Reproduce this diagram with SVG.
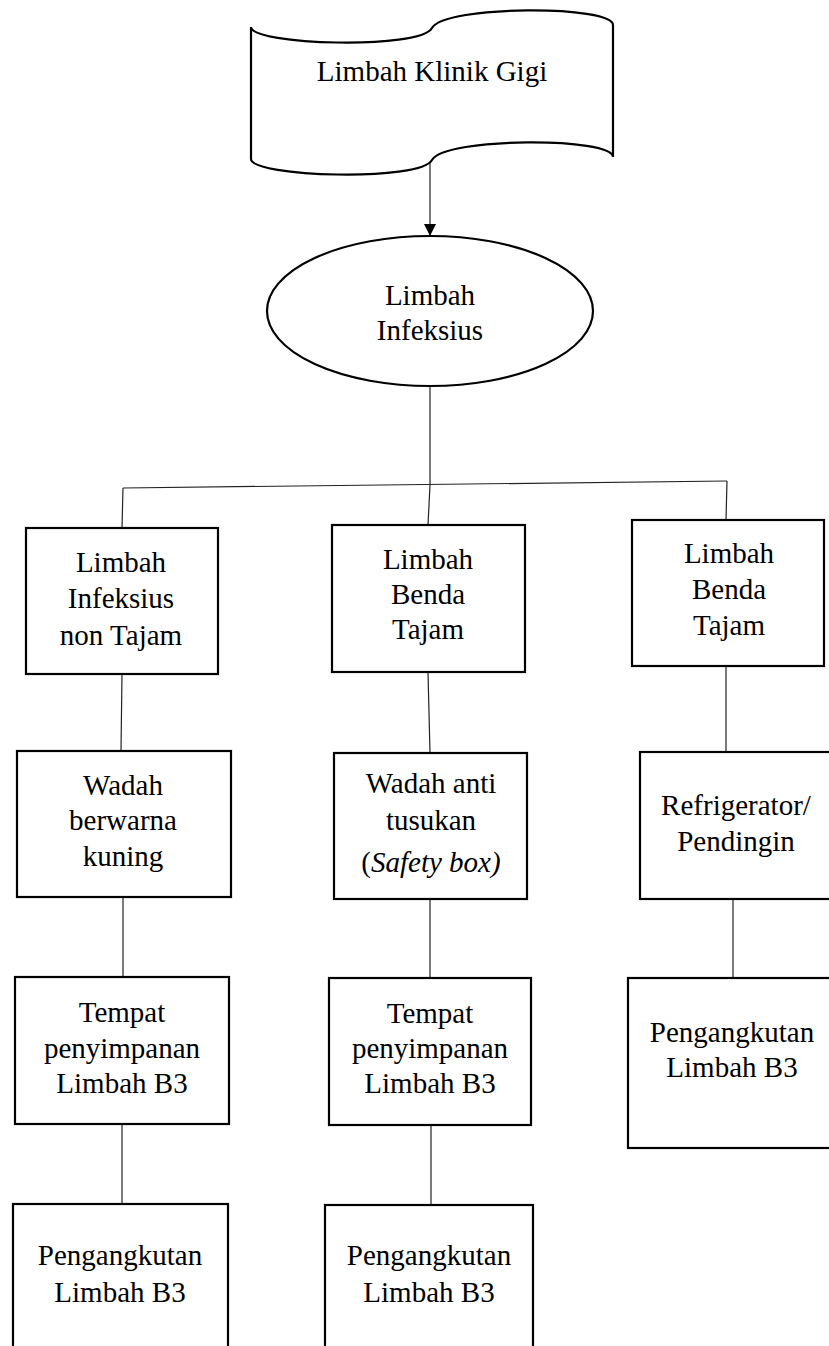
<svg xmlns="http://www.w3.org/2000/svg" width="829" height="1346" viewBox="0 0 829 1346">
<style>
.shape{fill:#fff;stroke:#000;stroke-width:2.2}
.con{fill:none;stroke:#222;stroke-width:1.2}
text{font-family:"Liberation Serif","Times New Roman",serif;font-size:29px;fill:#000;text-anchor:middle}
.it{font-style:italic}
</style>
<defs>
<marker id="arr" markerWidth="14" markerHeight="12" refX="12" refY="6" orient="auto" markerUnits="userSpaceOnUse">
<path d="M0,0 L12,6 L0,12 Z" fill="#000"/>
</marker>
</defs>
<rect width="829" height="1346" fill="#fff"/>
<g id="connectors">
<line class="con" x1="430" y1="155" x2="430" y2="236" marker-end="url(#arr)"/>
<line class="con" x1="430" y1="386" x2="430" y2="485"/>
<line class="con" x1="123" y1="488" x2="727" y2="481"/>
<line class="con" x1="123" y1="488" x2="122" y2="528"/>
<line class="con" x1="430" y1="485" x2="428" y2="525"/>
<line class="con" x1="727" y1="481" x2="726" y2="520"/>
<line class="con" x1="122" y1="674" x2="121" y2="751"/>
<line class="con" x1="428" y1="672" x2="430" y2="753"/>
<line class="con" x1="726" y1="666" x2="726" y2="752"/>
<line class="con" x1="123" y1="897" x2="123" y2="977"/>
<line class="con" x1="430" y1="899" x2="430" y2="978"/>
<line class="con" x1="733" y1="899" x2="733" y2="978"/>
<line class="con" x1="122" y1="1124" x2="122" y2="1204"/>
<line class="con" x1="431" y1="1125" x2="431" y2="1205"/>
</g>
<g id="doc">
<path class="shape" d="M251,27 C251,45 420,50 432,28 C445,5 613,5 613,25 L613,157 C613,137 445,137 432,160 C420,182 251,177 251,159 Z"/>
<text x="432" y="81">Limbah Klinik Gigi</text>
</g>
<g id="ellipse">
<ellipse class="shape" cx="430" cy="311" rx="163" ry="75"/>
<text x="430" y="305">Limbah</text>
<text x="430" y="340">Infeksius</text>
</g>
<g id="c1r1">
<rect class="shape" x="26" y="528" width="192" height="146"/>
<text x="121" y="572">Limbah</text>
<text x="121" y="608">Infeksius</text>
<text x="121" y="645">non Tajam</text>
</g>
<g id="c2r1">
<rect class="shape" x="332" y="525" width="193" height="147"/>
<text x="428" y="569">Limbah</text>
<text x="428" y="604">Benda</text>
<text x="428" y="639">Tajam</text>
</g>
<g id="c3r1">
<rect class="shape" x="632" y="520" width="192" height="146"/>
<text x="729" y="563">Limbah</text>
<text x="729" y="599">Benda</text>
<text x="729" y="635">Tajam</text>
</g>
<g id="c1r2">
<rect class="shape" x="17" y="751" width="214" height="146"/>
<text x="123" y="795">Wadah</text>
<text x="123" y="830">berwarna</text>
<text x="123" y="866">kuning</text>
</g>
<g id="c2r2">
<rect class="shape" x="334" y="753" width="193" height="146"/>
<text x="431" y="793">Wadah anti</text>
<text x="431" y="830">tusukan</text>
<text x="431" y="872">(<tspan class="it">Safety box)</tspan></text>
</g>
<g id="c3r2">
<rect class="shape" x="640" y="752" width="192" height="147"/>
<text x="736" y="815">Refrigerator/</text>
<text x="736" y="851">Pendingin</text>
</g>
<g id="c1r3">
<rect class="shape" x="15" y="977" width="214" height="147"/>
<text x="122" y="1022">Tempat</text>
<text x="122" y="1058">penyimpanan</text>
<text x="122" y="1093">Limbah B3</text>
</g>
<g id="c2r3">
<rect class="shape" x="329" y="978" width="202" height="147"/>
<text x="430" y="1023">Tempat</text>
<text x="430" y="1058">penyimpanan</text>
<text x="430" y="1093">Limbah B3</text>
</g>
<g id="c3r3">
<rect class="shape" x="628" y="978" width="206" height="170"/>
<text x="732" y="1042">Pengangkutan</text>
<text x="732" y="1077">Limbah B3</text>
</g>
<g id="c1r4">
<rect class="shape" x="13" y="1204" width="215" height="160"/>
<text x="120" y="1265">Pengangkutan</text>
<text x="120" y="1302">Limbah B3</text>
</g>
<g id="c2r4">
<rect class="shape" x="325" y="1205" width="208" height="160"/>
<text x="429" y="1265">Pengangkutan</text>
<text x="429" y="1302">Limbah B3</text>
</g>
</svg>
